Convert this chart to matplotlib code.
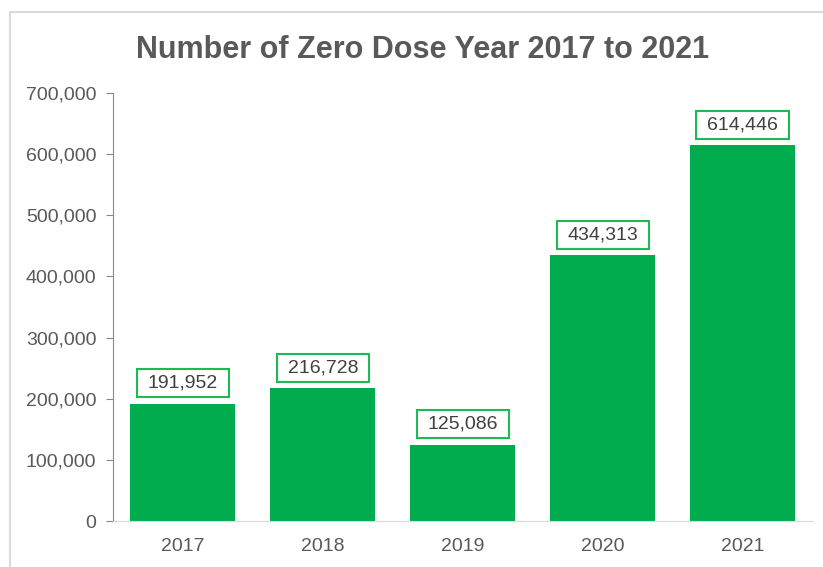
import matplotlib
matplotlib.use("Agg")
from matplotlib import pyplot as plt
from matplotlib.patches import Rectangle
from matplotlib.path import Path
from matplotlib.ticker import FuncFormatter

years = ["2017", "2018", "2019", "2020", "2021"]
zero_dose = [191952, 216728, 125086, 434313, 614446]
y_ticks = [0, 100000, 200000, 300000, 400000, 500000, 600000, 700000]

bar_green = "#00ac4e"
text_gray = "#595959"

plt.rcParams["font.family"] = ["Liberation Sans", "DejaVu Sans"]


def label_box(x0, y0, width, height, mutation_size):
    """Rectangle with wider side padding than top/bottom padding."""
    px = 0.55 * mutation_size
    py = 0.28 * mutation_size
    x0, y0 = x0 - px, y0 - py
    x1, y1 = x0 + width + 2 * px, y0 + height + 2 * py
    return Path([(x0, y0), (x1, y0), (x1, y1), (x0, y1), (x0, y0)],
                closed=True)


fig = plt.figure(figsize=(8.23, 5.67), dpi=100)
ax = fig.add_axes([0.1373, 0.0811, 0.85, 0.755])

# light frame around the chart area, as in the screenshot
fig.patches.append(Rectangle((10 / 823, -0.05), 1.1, 1 - 12 / 567 + 0.05,
                             transform=fig.transFigure, fill=False,
                             ec="#d9d9d9", lw=1.5))

x = range(len(years))
ax.bar(x, zero_dose, width=0.75, color=bar_green)

for i, v in enumerate(zero_dose):
    ax.annotate(f"{v:,}", xy=(i, v), xytext=(0, 8.5), textcoords="offset points",
                ha="center", va="bottom", fontsize=14, color="#404040",
                bbox=dict(boxstyle=label_box, fc="white",
                          ec="#1db954", lw=1.5))

ax.set_xlim(-0.5, 4.5)
ax.set_ylim(0, 700000)
ax.set_yticks(y_ticks)
ax.yaxis.set_major_formatter(FuncFormatter(lambda v, p: f"{int(v):,}"))
ax.set_xticks(list(x))
ax.set_xticklabels(years)

ax.tick_params(axis="y", length=5, color="#888888", labelsize=14,
               labelcolor=text_gray, pad=7)
ax.tick_params(axis="x", length=0, labelsize=14, labelcolor=text_gray, pad=12.5)

for side in ["top", "right"]:
    ax.spines[side].set_visible(False)
ax.spines["left"].set_color("#888888")
ax.spines["bottom"].set_color("#d9d9d9")

fig.text(0.514, 1 - 58 / 567, "Number of Zero Dose Year 2017 to 2021",
         ha="center", va="baseline", fontsize=22, fontweight="bold",
         color=text_gray)

fig.savefig("out.png", dpi=100)
